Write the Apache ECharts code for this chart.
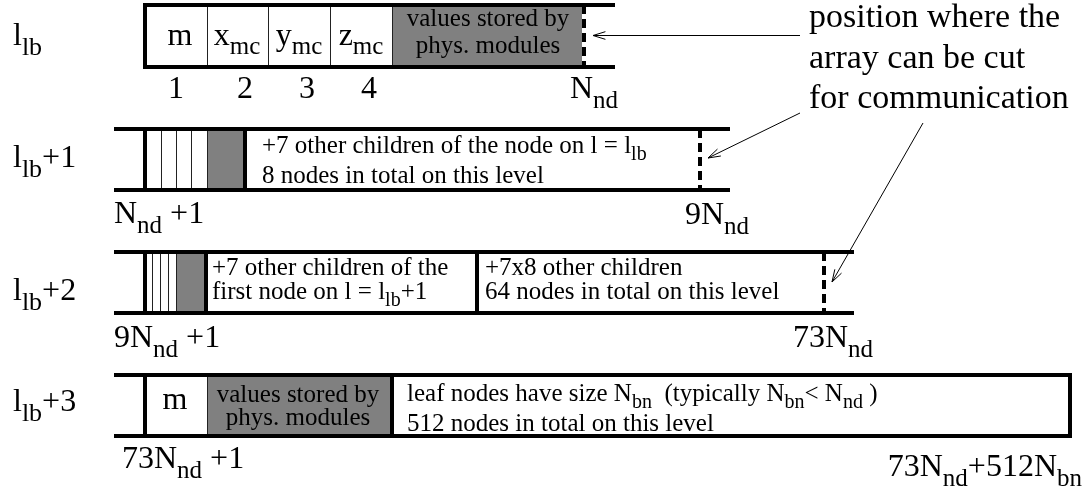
<!DOCTYPE html>
<html>
<head>
<meta charset="utf-8">
<script src="https://cdn.jsdelivr.net/npm/echarts@6/dist/echarts.min.js"></script>
<style>
  html, body { margin: 0; padding: 0; background: #fff; }
  #main { width: 1085px; height: 492px; }
</style>
</head>
<body>
<div id="main"></div>
<script>
// diagram units: a hidden 0..1085 x 0..492 value axis pair
// ---- the four tree levels ----
const levelLabels = ['l{s|lb}', 'l{s|lb}+1', 'l{s|lb}+2', 'l{s|lb}+3'];
const levelBaseline = [44, 166, 299, 410];
const rowTop = [5, 129, 252, 375];
const rowBottom = [67, 190, 313, 436];
const railFrom = [143, 114, 114, 114];
const railTo = [615, 730, 854, 1072];
const nodeEdges = [[145], [145, 245], [145, 206, 477], [145, 392, 1070]];
const headerEdges = [[207, 268, 330, 392], [161, 176, 191, 207], [152, 160, 168, 176], [207]];
const physFrom = [392, 207, 176, 207];
const physTo = [582, 243, 204, 390];
const cutAt = [584, 700, 824, null];

// index labels under the strips: [text, x, baseline, align]
const indexLabels = [
  ['1', 176, 97, 'center'], ['2', 245, 97, 'center'], ['3', 307, 97, 'center'], ['4', 369, 97, 'center'],
  ['N{s|nd}', 570, 97, 'left'],
  ['N{s|nd} +1', 114, 222, 'left'], ['9N{s|nd}', 685, 223, 'left'],
  ['9N{s|nd} +1', 114, 346, 'left'], ['73N{s|nd}', 793, 346, 'left'],
  ['73N{s|nd} +1', 122, 467, 'left'], ['73N{s|nd}+512N{s|bn}', 1082, 475, 'right']
];
// big symbols inside the cells
const cellSymbols = [
  ['m', 180, 44, 'center'], ['x{s|mc}', 237, 44, 'center'], ['y{s|mc}', 299, 44, 'center'],
  ['z{s|mc}', 361, 44, 'center'], ['m', 175, 408, 'center']
];
// small text inside the cells
const cellNotes = [
  ['values stored by', 488, 25, 'center'], ['phys. modules', 488, 52, 'center'],
  ['+7 other children of the node on l = l{s|lb}', 262, 152, 'left'],
  ['8 nodes in total on this level', 262, 182, 'left'],
  ['+7 other children of the', 212, 274, 'left'],
  ['first node on l = l{s|lb}+1', 212, 298, 'left'],
  ['+7x8 other children', 485, 274, 'left'],
  ['64 nodes in total on this level', 485, 298, 'left'],
  ['values stored by', 298, 401, 'center'], ['phys. modules', 298, 424, 'center'],
  ['leaf nodes have size N{s|bn}  (typically N{s|bn}< N{s|nd} )', 407, 400, 'left'],
  ['512 nodes in total on this level', 407, 430, 'left']
];
const annotation = ['position where the', 'array can be cut', 'for communication'];
const annotationX = 809;
const annotationBaseline = [26, 67, 107];
// [fromX, fromY, tipX, tipY]
const arrows = [[800, 35.5, 593, 35.5], [800, 113, 708, 158], [923, 123, 832, 282]];

const FONT = '"Liberation Serif", "Times New Roman", serif';
const MID = 0.22; // baseline -> 'middle' offset, tuned by eye

function textRenderer(list, size, subSize, drop) {
  const pad = Math.round(2 * (0.3375 * (size - subSize) + drop));
  const lh = Math.round(size * 1.6);
  return function (params, api) {
    const t = list[params.dataIndex];
    const p = api.coord([t[1], t[2]]);
    return {
      type: 'text',
      x: p[0],
      y: p[1] - MID * size,
      style: {
        text: t[0],
        font: size + 'px ' + FONT,
        fill: '#000',
        align: t[3] || 'left',
        verticalAlign: 'middle',
        lineHeight: lh,
        rich: {
          s: { font: subSize + 'px ' + FONT, fill: '#000', padding: [pad, 0, 0, 0], lineHeight: lh }
        }
      }
    };
  };
}

function textSeries(list, size, subSize, drop) {
  return {
    type: 'custom',
    coordinateSystem: 'cartesian2d',
    silent: true,
    z: 10,
    data: list.map((t) => [t[1], t[2]]),
    renderItem: textRenderer(list, size, subSize, drop)
  };
}

function renderStrip(params, api) {
  const i = params.dataIndex;
  const top = rowTop[i];
  const bot = rowBottom[i];
  const P = (x, y) => api.coord([x, y]);
  const kids = [];
  const g0 = P(physFrom[i], top);
  const g1 = P(physTo[i], bot);
  kids.push({
    type: 'rect',
    shape: { x: g0[0], y: g0[1], width: g1[0] - g0[0], height: g1[1] - g0[1] },
    style: { fill: '#808080' }
  });
  headerEdges[i].forEach((x) => {
    const a = P(x, top), b = P(x, bot);
    kids.push({
      type: 'line',
      shape: { x1: a[0] + 0.5, y1: a[1], x2: b[0] + 0.5, y2: b[1] },
      style: { stroke: '#222', lineWidth: 1 }
    });
  });
  if (cutAt[i] != null) {
    const a = P(cutAt[i], top), b = P(cutAt[i], bot);
    kids.push({
      type: 'line',
      shape: { x1: a[0], y1: a[1], x2: b[0], y2: b[1] },
      style: { stroke: '#000', lineWidth: 4, lineDash: [9, 5] }
    });
  }
  [top, bot].forEach((y) => {
    const a = P(railFrom[i], y), b = P(railTo[i], y);
    kids.push({
      type: 'line',
      shape: { x1: a[0], y1: a[1], x2: b[0], y2: b[1] },
      style: { stroke: '#000', lineWidth: 4 }
    });
  });
  nodeEdges[i].forEach((x) => {
    const a = P(x, top), b = P(x, bot);
    kids.push({
      type: 'line',
      shape: { x1: a[0], y1: a[1] - 2, x2: b[0], y2: b[1] + 2 },
      style: { stroke: '#000', lineWidth: 4 }
    });
  });
  return { type: 'group', children: kids };
}

function renderArrow(params, api) {
  const a = arrows[params.dataIndex];
  const p0 = api.coord([a[0], a[1]]);
  const p1 = api.coord([a[2], a[3]]);
  const dx = p0[0] - p1[0], dy = p0[1] - p1[1];
  const len = Math.hypot(dx, dy);
  const ux = dx / len, uy = dy / len;
  const head = 13, c = Math.cos(0.3), s = Math.sin(0.3);
  const h1 = [p1[0] + head * (ux * c - uy * s), p1[1] + head * (ux * s + uy * c)];
  const h2 = [p1[0] + head * (ux * c + uy * s), p1[1] + head * (-ux * s + uy * c)];
  return {
    type: 'group',
    children: [
      { type: 'line', shape: { x1: p0[0], y1: p0[1], x2: p1[0], y2: p1[1] }, style: { stroke: '#000', lineWidth: 1 } },
      { type: 'polyline', shape: { points: [h1, p1, h2] }, style: { stroke: '#000', lineWidth: 1, fill: null } }
    ]
  };
}

const levelList = levelLabels.map((s, i) => [s, 13, levelBaseline[i], 'left']);
const noteList = annotation.map((s, i) => [s, annotationX, annotationBaseline[i], 'left']);

const chart = echarts.init(document.getElementById('main'));
const option = {
  animation: false,
  backgroundColor: '#fff',
  grid: { left: 0, right: 0, top: 0, bottom: 0, containLabel: false },
  xAxis: { type: 'value', min: 0, max: 1085, show: false, splitLine: { show: false } },
  yAxis: { type: 'value', min: 0, max: 492, inverse: true, show: false, splitLine: { show: false } },
  series: [
    {
      type: 'custom',
      coordinateSystem: 'cartesian2d',
      silent: true,
      data: rowTop.map((t, i) => [railFrom[i], t]),
      renderItem: renderStrip
    },
    {
      type: 'custom',
      coordinateSystem: 'cartesian2d',
      silent: true,
      data: arrows.map((a) => [a[0], a[1]]),
      renderItem: renderArrow
    },
    textSeries(levelList, 32, 26, 9),
    textSeries(indexLabels, 32, 25, 9),
    textSeries(cellSymbols, 32, 25, 8),
    textSeries(cellNotes, 25, 20, 7),
    textSeries(noteList, 34, 26, 8)
  ]
};
chart.setOption(option);
</script>
</body>
</html>
